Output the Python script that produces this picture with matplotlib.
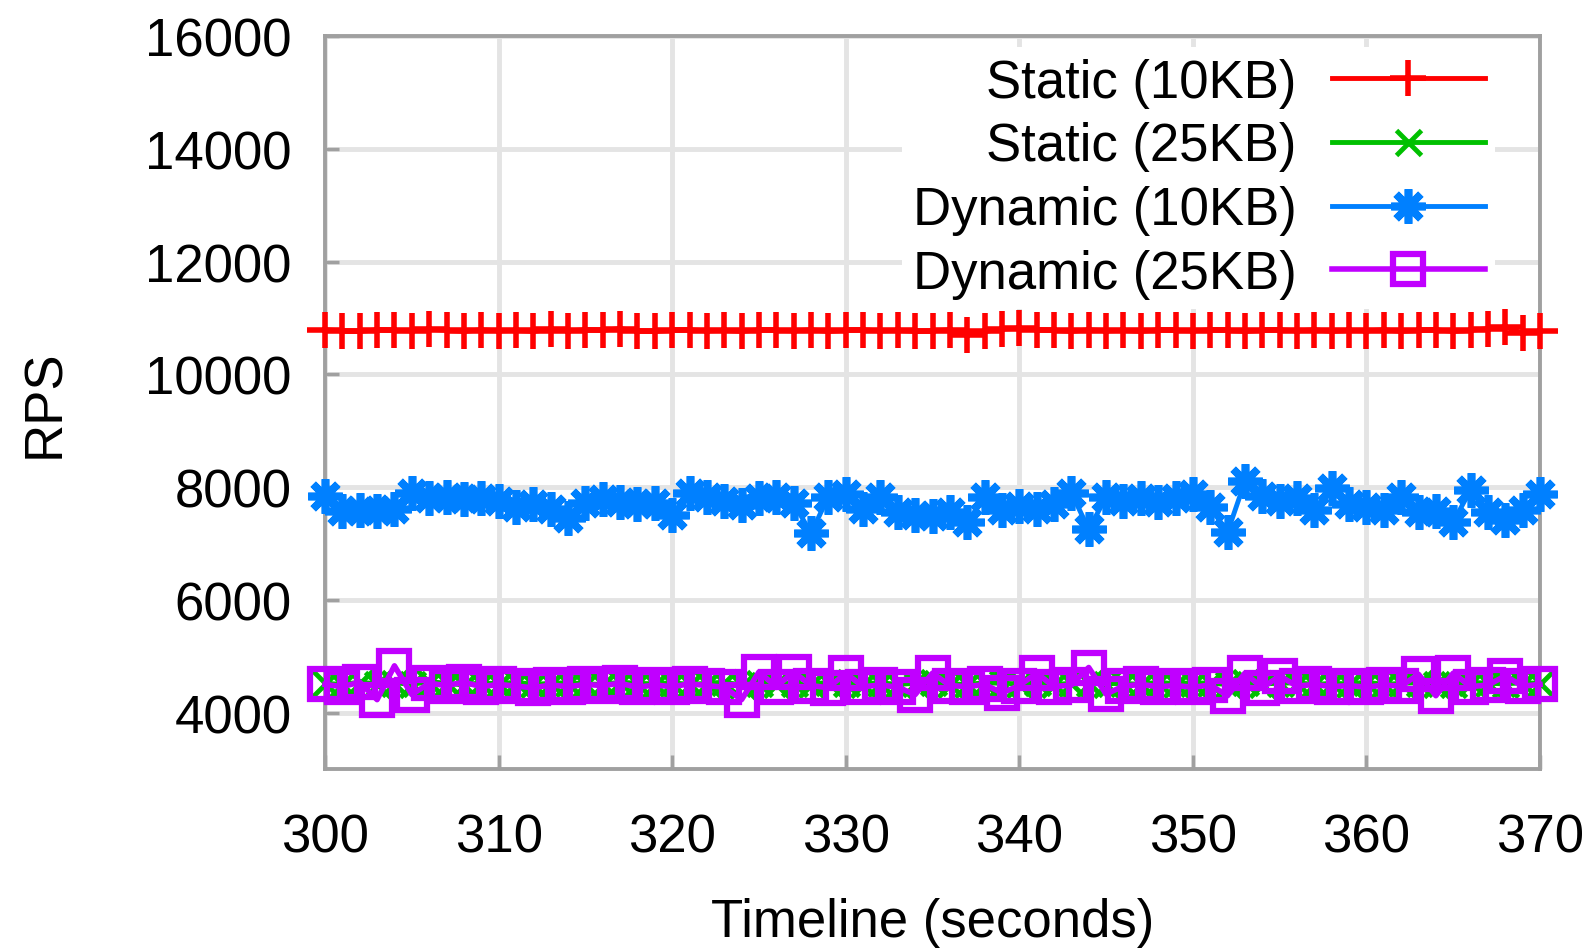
import matplotlib
matplotlib.use('Agg')
import matplotlib.pyplot as plt

plt.rcParams['font.family'] = ['Liberation Sans', 'DejaVu Sans']

# one sample per second
seconds = list(range(300, 371))

static10 = [10790, 10770, 10760, 10790, 10780, 10770, 10800, 10780, 10760, 10790,
            10770, 10780, 10760, 10800, 10770, 10790, 10780, 10810, 10770, 10760,
            10780, 10790, 10770, 10780, 10760, 10790, 10780, 10770, 10790, 10760,
            10780, 10790, 10770, 10780, 10760, 10770, 10790, 10700, 10760, 10800,
            10820, 10790, 10780, 10760, 10790, 10770, 10780, 10760, 10790, 10780,
            10770, 10790, 10780, 10760, 10780, 10790, 10770, 10790, 10760, 10780,
            10770, 10790, 10760, 10780, 10790, 10760, 10780, 10810, 10840, 10730,
            10760]

static25 = [4520, 4500, 4540, 4510, 4530, 4500, 4550, 4520, 4490, 4530,
            4510, 4540, 4500, 4520, 4530, 4510, 4500, 4540, 4520, 4510,
            4530, 4500, 4520, 4540, 4490, 4530, 4510, 4520, 4500, 4540,
            4520, 4510, 4530, 4500, 4520, 4540, 4510, 4500, 4530, 4520,
            4510, 4540, 4500, 4520, 4530, 4510, 4520, 4500, 4540, 4510,
            4530, 4520, 4500, 4540, 4510, 4520, 4530, 4500, 4520, 4510,
            4540, 4500, 4520, 4530, 4510, 4500, 4540, 4520, 4510, 4530,
            4520]

dynamic10 = [7850, 7580, 7600, 7580, 7620, 7900, 7800, 7820, 7780, 7810,
             7760, 7640, 7700, 7620, 7450, 7720, 7780, 7740, 7700, 7720,
             7500, 7900, 7830, 7760, 7680, 7800, 7830, 7720, 7180, 7830,
             7880, 7620, 7830, 7550, 7500, 7480, 7560, 7380, 7820, 7600,
             7660, 7620, 7700, 7900, 7250, 7820, 7760, 7800, 7740, 7800,
             7880, 7640, 7200, 8100, 7850, 7760, 7800, 7600, 7980, 7700,
             7650, 7600, 7820, 7560, 7580, 7380, 7950, 7560, 7420, 7600,
             7880]

dynamic25 = [4500, 4460, 4540, 4230, 4830, 4320, 4520, 4480, 4540, 4460,
             4500, 4470, 4440, 4490, 4460, 4500, 4480, 4520, 4450, 4490,
             4460, 4510, 4480, 4450, 4230, 4720, 4460, 4720, 4480, 4440,
             4700, 4460, 4490, 4450, 4320, 4700, 4480, 4460, 4500, 4350,
             4480, 4700, 4460, 4490, 4800, 4330, 4470, 4500, 4460, 4480,
             4450, 4490, 4300, 4700, 4440, 4650, 4470, 4500, 4460, 4480,
             4450, 4490, 4470, 4680, 4300, 4700, 4460, 4490, 4650, 4470,
             4500]

fig = plt.figure(figsize=(15.96, 9.53), dpi=100)
ax = fig.add_axes([325 / 1596, 1 - 770 / 953, 1215 / 1596, 733 / 953])

ax.plot(seconds, static10, color='#ff0000', lw=3.5, marker='+', ms=26, mew=4,
        label='Static (10KB)', clip_on=False, zorder=3)
ax.plot(seconds, static25, color='#00c000', lw=3.5, marker='x', ms=18, mew=3.5,
        label='Static (25KB)', clip_on=False, zorder=3)
ax.plot(seconds, dynamic10, color='#0080ff', lw=3.5, marker=(8, 2, 0), ms=25, mew=5.5,
        label='Dynamic (10KB)', clip_on=False, zorder=3)
ax.plot(seconds, dynamic25, color='#c000ff', lw=4, marker='s', ms=21, mew=4.5,
        mfc='none', label='Dynamic (25KB)', clip_on=False, zorder=3)

ax.set_xlim(300, 370)
ax.set_ylim(3000, 16000)
ax.set_xticks(range(300, 371, 10))
ax.set_yticks(range(4000, 16001, 2000))

ax.grid(True, color='#e4e4e4', lw=3.5)
ax.set_axisbelow(True)
for s in ax.spines.values():
    s.set_color('#a0a0a0')
    s.set_linewidth(2.8)

ax.tick_params(axis='both', direction='in', length=10, width=2.5, color='#a0a0a0',
               labelsize=38, top=False, right=False)
ax.tick_params(axis='x', pad=31)
ax.tick_params(axis='y', pad=24)

ax.set_xlabel('Timeline (seconds)', fontsize=38, labelpad=25)
ax.set_ylabel('RPS', fontsize=38, labelpad=54)

leg = ax.legend(loc='upper right', bbox_to_anchor=(0.974, 1.003), markerfirst=False,
                fontsize=38, frameon=True, facecolor='white', edgecolor='none',
                framealpha=1, fancybox=False, borderpad=0.2, borderaxespad=0.25,
                labelspacing=0.26, handlelength=2.9, handletextpad=0.66)
for t in leg.get_texts():
    t.set_ha('right')
leg.set_zorder(5)

fig.savefig('out.png', dpi=100)
